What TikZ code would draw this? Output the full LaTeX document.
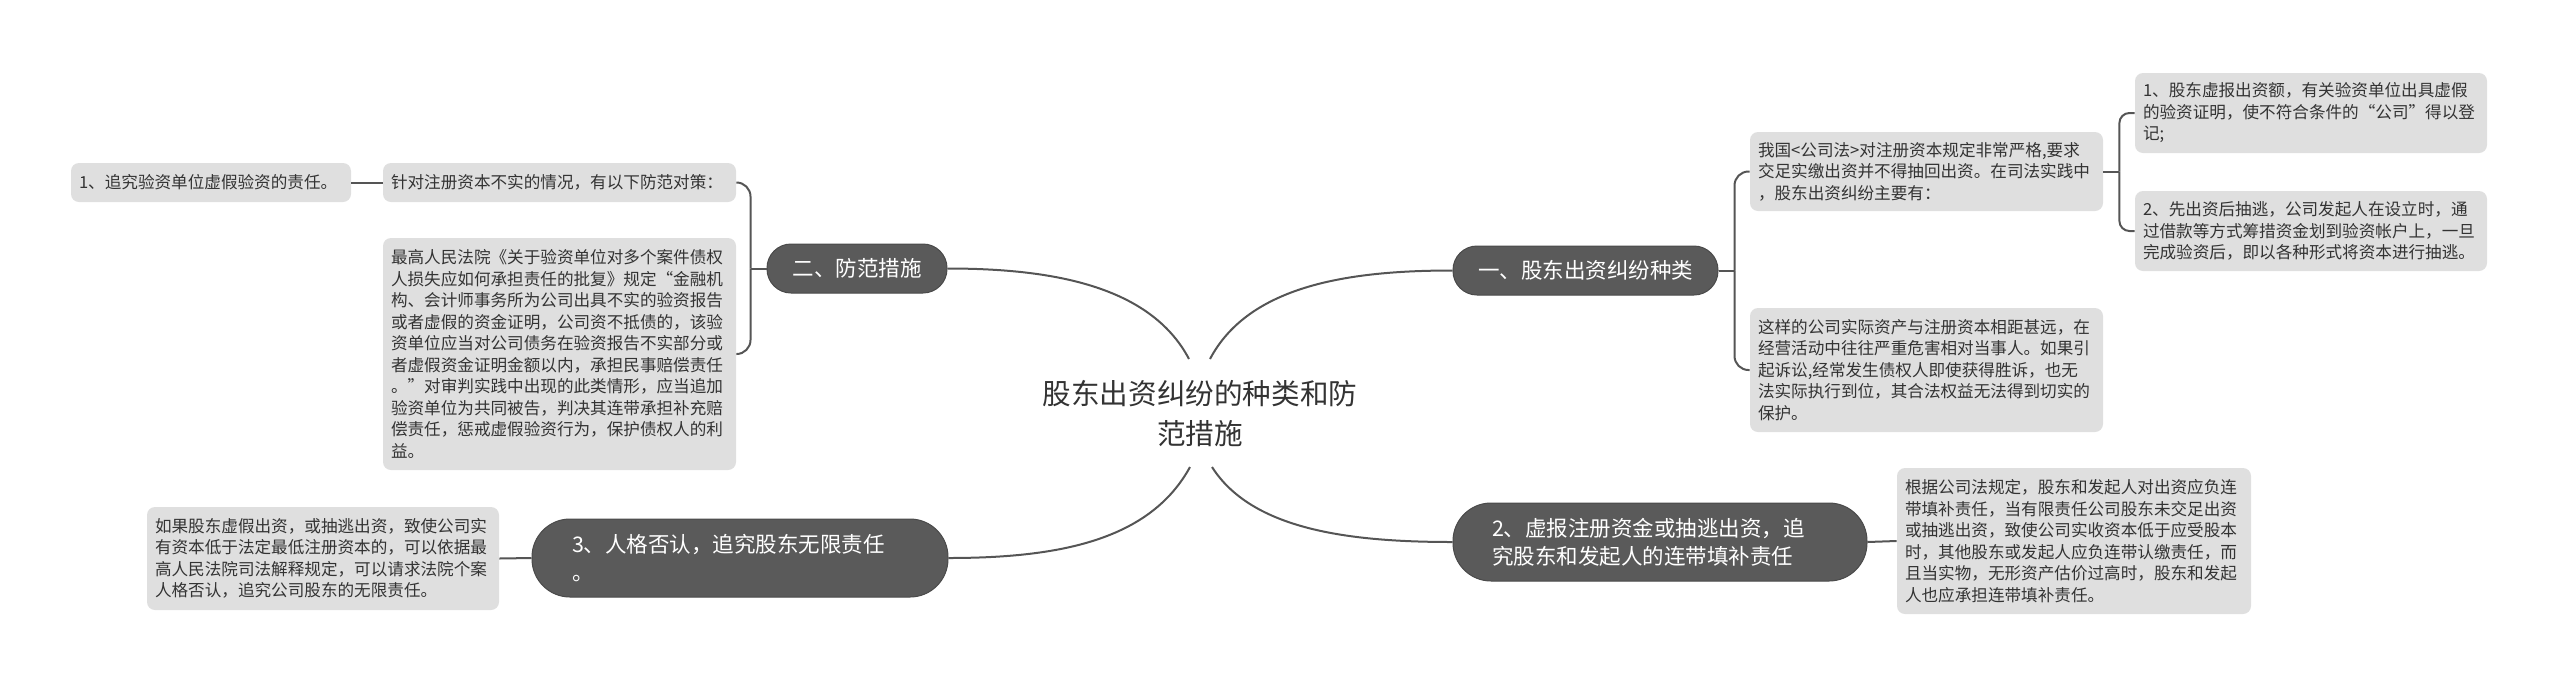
\documentclass[tikz,border=0pt]{standalone}
\usepackage{fontspec}
\setmainfont{Noto Sans CJK SC}
\newfontfamily\cjk{Noto Sans CJK SC}
\definecolor{boxgray}{HTML}{DFDFDF}
\definecolor{pillgray}{HTML}{5A5A5A}
\definecolor{pillborder}{HTML}{4A4A4A}
\definecolor{linegray}{HTML}{555555}
\definecolor{txt}{HTML}{333333}
\tikzset{
  lbox/.style={fill=boxgray, rounded corners=4pt, inner xsep=4pt, inner ysep=2pt, align=left,
    font=\cjk\fontsize{8.3pt}{10.75pt}\selectfont, text=txt},
  pill/.style={fill=pillgray, draw=pillborder, line width=0.5pt, text=white,
    font=\cjk\fontsize{10.75pt}{14pt}\selectfont, minimum height=24.5pt, rounded corners=12pt, inner ysep=2pt},
  pilltwo/.style={pill, minimum height=39pt, rounded corners=19pt, align=left},
  roottext/.style={align=center, text=txt, font=\cjk\fontsize{14.3pt}{20pt}\selectfont},
  conn/.style={draw=linegray, line width=1pt}
}
\begin{document}
\begin{tikzpicture}[x=0.5pt,y=-0.5pt]
\useasboundingbox (0,0) rectangle (2560,687);

% root
\node[roottext] (root) at (1200,413.5) {股东出资纠纷的种类和防\\范措施};
\coordinate (rtl) at (1189,359);
\coordinate (rtr) at (1210,359);
\coordinate (rbl) at (1190,467);
\coordinate (rbr) at (1212,467);

% main topics
\node[pill, minimum width=132.5pt] (p1) at (1585.5,270.5) {一、股东出资纠纷种类};
\node[pill, minimum width=90pt] (p2) at (857,268.5) {二、防范措施};
\node[pilltwo, text width=168pt, inner xsep=19.5pt] (p3) at (1660,542) {2、虚报注册资金或抽逃出资，追\\究股东和发起人的连带填补责任};
\node[pilltwo, text width=168pt, inner xsep=20pt] (p4) at (740,558) {3、人格否认，追究股东无限责任\\。};

% right side boxes
\node[lbox, text width=168.5pt, minimum height=39.5pt] (wo) at (1926.5,171.5) {我国<公司法>对注册资本规定非常严格,要求\\交足实缴出资并不得抽回出资。在司法实践中\\，股东出资纠纷主要有：};
\node[lbox, text width=168pt, minimum height=40pt] (b1) at (2311,113) {1、股东虚报出资额，有关验资单位出具虚假\\的验资证明，使不符合条件的“公司”得以登\\记;};
\node[lbox, text width=168pt, minimum height=40pt] (b2) at (2311,231) {2、先出资后抽逃，公司发起人在设立时，通\\过借款等方式筹措资金划到验资帐户上，一旦\\完成验资后，即以各种形式将资本进行抽逃。};
\node[lbox, text width=168.5pt, minimum height=62pt] (zy) at (1926.5,370) {这样的公司实际资产与注册资本相距甚远，在\\经营活动中往往严重危害相对当事人。如果引\\起诉讼,经常发生债权人即使获得胜诉，也无\\法实际执行到位，其合法权益无法得到切实的\\保护。};
\node[lbox, text width=169pt, minimum height=73pt] (gj) at (2074,541) {根据公司法规定，股东和发起人对出资应负连\\带填补责任，当有限责任公司股东未交足出资\\或抽逃出资，致使公司实收资本低于应受股本\\时，其他股东或发起人应负连带认缴责任，而\\且当实物，无形资产估价过高时，股东和发起\\人也应承担连带填补责任。};

% left side boxes
\node[lbox, text width=168.5pt, minimum height=19.5pt] (zd) at (559.5,182.5) {针对注册资本不实的情况，有以下防范对策：};
\node[lbox, text width=132pt, minimum height=19.5pt] (zj) at (211,182.5) {1、追究验资单位虚假验资的责任。};
\node[lbox, text width=168.5pt, minimum height=116pt] (zg) at (559.5,354) {最高人民法院《关于验资单位对多个案件债权\\人损失应如何承担责任的批复》规定“金融机\\构、会计师事务所为公司出具不实的验资报告\\或者虚假的资金证明，公司资不抵债的，该验\\资单位应当对公司债务在验资报告不实部分或\\者虚假资金证明金额以内，承担民事赔偿责任\\。”对审判实践中出现的此类情形，应当追加\\验资单位为共同被告，判决其连带承担补充赔\\偿责任，惩戒虚假验资行为，保护债权人的利\\益。};
\node[lbox, text width=168pt, minimum height=51.5pt] (rg) at (323,558.5) {如果股东虚假出资，或抽逃出资，致使公司实\\有资本低于法定最低注册资本的，可以依据最\\高人民法院司法解释规定，可以请求法院个案\\人格否认，追究公司股东的无限责任。};

% root connectors
\draw[conn] (rtl) .. controls (1150,285) and (1050,268.5) .. (p2.east);
\draw[conn] (rtr) .. controls (1249,285) and (1350,270.5) .. (p1.west);
\draw[conn] (rbl) .. controls (1150,540) and (1060,558) .. (p4.east);
\draw[conn] (rbr) .. controls (1252,530) and (1350,542) .. (p3.west);

% braces
\draw[conn] (p1.east) -- ++(16,0) coordinate (j1);
\draw[conn, rounded corners=7pt] (j1) |- (wo.west);
\draw[conn, rounded corners=7pt] (j1) |- (zy.west);

\draw[conn] (wo.east) -- ++(16,0) coordinate (j2);
\draw[conn, rounded corners=5pt] (j2) |- (b1.west);
\draw[conn, rounded corners=5pt] (j2) |- (b2.west);

\draw[conn] (p2.west) -- ++(-16,0) coordinate (j3);
\draw[conn, rounded corners=7pt] (j3) |- (zd.east);
\draw[conn, rounded corners=7pt] (j3) |- (zg.east);

% straight links
\draw[conn] (zd.west) -- (zj.east);
\draw[conn] (p3.east) -- (gj.west);
\draw[conn] (p4.west) -- (rg.east);
\end{tikzpicture}
\end{document}
